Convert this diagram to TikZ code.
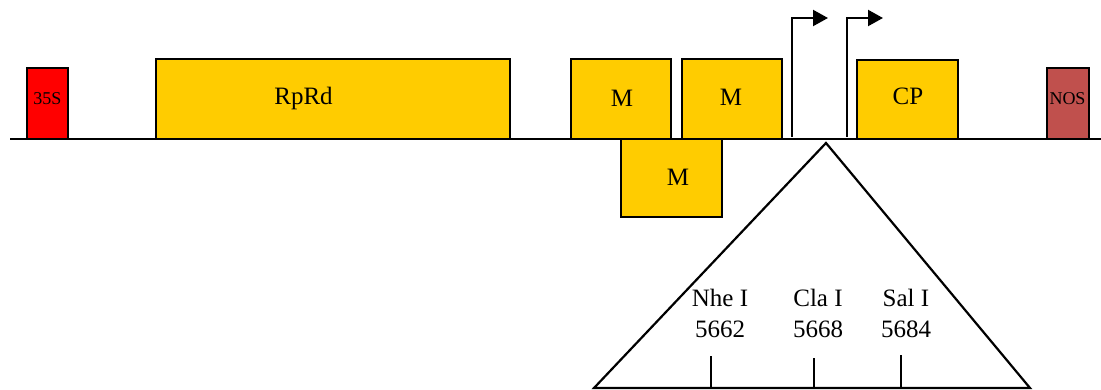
\documentclass[tikz,border=0pt]{standalone}
\usepackage{fontspec}
\setmainfont{Liberation Serif}
\usetikzlibrary{arrows.meta}
\definecolor{gold}{HTML}{FFCC00}
\definecolor{nosred}{HTML}{C0504D}
\tikzset{
  gene/.style={draw=black, line width=2.2pt, fill=gold, inner sep=0pt},
  genelabel/.style={font=\fontsize{25}{28}\selectfont, inner sep=0pt},
  smallbox/.style={draw=black, line width=2.2pt, inner sep=0pt},
  smalllabel/.style={font=\fontsize{18}{20}\selectfont, inner sep=0pt},
  promoter/.style={line width=2.2pt, -{Triangle[length=15pt,width=16pt]}},
  site/.style={font=\fontsize{25}{31}\selectfont, align=center, inner sep=0pt},
  tick/.style={line width=2.2pt}
}
\begin{document}
\begin{tikzpicture}[x=1pt, y=-1pt]
\useasboundingbox (0,0) rectangle (1101,390);
% backbone
\coordinate (L) at (10,139);
\coordinate (R) at (1101,139);
\draw[line width=2.2pt] (L) -- (R);
% cassette elements
\node[smallbox, fill=red, minimum width=41pt, minimum height=71pt] (p35s) at (47.5,103.5) {};
\node[smalllabel] (p35stext) at (47.5,98.5) {35S};
\node[gene, minimum width=354pt, minimum height=80pt] (rprd) at (333,99) {};
\node[genelabel] (rprdtext) at (303.5,98) {RpRd};
\node[gene, minimum width=100pt, minimum height=80pt] (m1) at (621,99) {};
\node[genelabel] (m1text) at (622,98) {M};
\node[gene, minimum width=100pt, minimum height=80pt] (m2) at (732,99) {};
\node[genelabel] (m2text) at (731,97) {M};
\node[gene, minimum width=101pt, minimum height=78pt] (m3) at (671.5,178) {};
\node[genelabel] (m3text) at (678,177) {M};
\node[gene, minimum width=101pt, minimum height=79pt] (cp) at (907.5,99.5) {};
\node[genelabel] (cptext) at (908,96) {CP};
\node[smallbox, fill=nosred, minimum width=42pt, minimum height=71pt] (nos) at (1068,103.5) {};
\node[smalllabel] (nostext) at (1067.5,99) {NOS};
% promoters
\coordinate (pa0) at (792,137);
\coordinate (pa1) at (792,18);
\coordinate (pa2) at (828,18);
\coordinate (pb0) at (847,137);
\coordinate (pb1) at (847,18);
\coordinate (pb2) at (883,18);
\draw[promoter] (pa0) -- (pa1) -- (pa2);
\draw[promoter] (pb0) -- (pb1) -- (pb2);
% expanded region
\coordinate (apex) at (826,143);
\coordinate (bl) at (594,388);
\coordinate (br) at (1030,388);
\draw[line width=2.2pt, line join=miter] (bl) -- (apex) -- (br) -- cycle;
% restriction sites
\node[site] (nhe) at (720,313) {Nhe I\\5662};
\node[site] (cla) at (818,313) {Cla I\\5668};
\node[site] (sal) at (906,313) {Sal I\\5684};
\coordinate (t1a) at (711,356); \coordinate (t1b) at (711,388);
\coordinate (t2a) at (814,358); \coordinate (t2b) at (814,388);
\coordinate (t3a) at (901,355); \coordinate (t3b) at (901,388);
\draw[tick] (t1a) -- (t1b);
\draw[tick] (t2a) -- (t2b);
\draw[tick] (t3a) -- (t3b);
\end{tikzpicture}
\end{document}
